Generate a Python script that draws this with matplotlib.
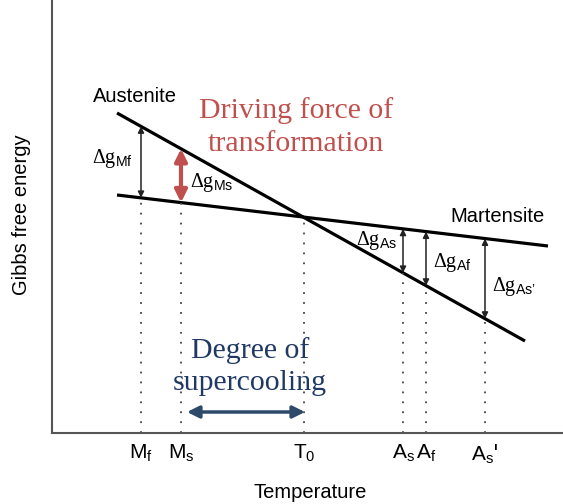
import numpy as np
import matplotlib
matplotlib.use("Agg")
import matplotlib.pyplot as plt

plt.rcParams['mathtext.fontset'] = 'custom'
plt.rcParams['mathtext.rm'] = 'Liberation Serif'
plt.rcParams['mathtext.it'] = 'Liberation Serif:italic'
plt.rcParams['mathtext.sf'] = 'Liberation Sans'

# ---- data (arbitrary units) ----
aus_T = [117, 525]
aus_G = [391, 163]
mar_T = [117, 548]
mar_G = [309, 258]
temp_names = ['Mf', 'Ms', 'T0', 'As', 'Af', "As'"]
temp_vals = [141, 181, 304, 403, 426, 485]
temp_labels = [r'$\mathsf{M_f}$', r'$\mathsf{M_s}$', r'$\mathsf{T_0}$',
               r'$\mathsf{A_s}$', r'$\mathsf{A_f}$', r"$\mathsf{A_s}$'"]
dg_labels = {'Mf': r'$\Delta\mathrm{g}_{\mathsf{Mf}}$',
             'Ms': r'$\Delta\mathrm{g}_{\mathsf{Ms}}$',
             'As': r'$\Delta\mathrm{g}_{\mathsf{As}}$',
             'Af': r'$\Delta\mathrm{g}_{\mathsf{Af}}$',
             "As'": '$\\Delta\\mathrm{g}_{\\mathsf{As\u2019}}$'}
supercool_span = [187, 305]


def g_aus(t):
    return aus_G[0] + (aus_G[1] - aus_G[0]) * (t - aus_T[0]) / (aus_T[1] - aus_T[0])


def g_mar(t):
    return mar_G[0] + (mar_G[1] - mar_G[0]) * (t - mar_T[0]) / (mar_T[1] - mar_T[0])


fig = plt.figure(figsize=(5.63, 5.04), dpi=100)
ax = fig.add_axes([52/563, 71/504, 1 - 52/563, 433/504])
ax.set_xlim(52, 563)
ax.set_ylim(71, 504)

for s in ['top', 'right']:
    ax.spines[s].set_visible(False)
for s in ['left', 'bottom']:
    ax.spines[s].set_color('#555555')
    ax.spines[s].set_linewidth(1.5)

ax.plot(aus_T, aus_G, color='black', lw=2.3, solid_capstyle='butt')
ax.plot(mar_T, mar_G, color='black', lw=2.3, solid_capstyle='butt')

# dotted guide lines
for name, t in zip(temp_names, temp_vals):
    top = min(g_aus(t), g_mar(t))
    ax.plot([t, t], [71, top], color='#444444', lw=1.3, linestyle=(0, (1, 4.5)))

# Delta g arrows
for name, t in zip(temp_names, temp_vals):
    if name == 'T0':
        continue
    a, m = g_aus(t), g_mar(t)
    if name == 'Ms':
        ax.annotate('', xy=(t, a), xytext=(t, m),
                    arrowprops=dict(arrowstyle='<|-|>', color='#C0504D', lw=3,
                                    mutation_scale=18, shrinkA=0, shrinkB=0))
    else:
        ax.annotate('', xy=(t, max(a, m)), xytext=(t, min(a, m)),
                    arrowprops=dict(arrowstyle='<|-|>', color='#222222', lw=1.1,
                                    mutation_scale=9, shrinkA=0, shrinkB=0))

fs = 14.5
ax.text(112, 345, dg_labels['Mf'], fontsize=fs, ha='center', va='center')
ax.text(212, 321, dg_labels['Ms'], fontsize=fs, ha='center', va='center')
ax.text(377, 264, dg_labels['As'], fontsize=fs, ha='center', va='center')
ax.text(452, 242, dg_labels['Af'], fontsize=fs, ha='center', va='center')
ax.text(514, 217, dg_labels["As'"], fontsize=fs, ha='center', va='center')

ax.text(135, 407, 'Austenite', fontsize=14.5, ha='center', va='center',
        family='Liberation Sans')
ax.text(498, 287, 'Martensite', fontsize=14.5, ha='center', va='center',
        family='Liberation Sans')

ax.text(296, 377, 'Driving force of\ntransformation', fontsize=21.5, ha='center',
        va='center', family='Liberation Serif', color='#C0504D', linespacing=1.32)
ax.text(250, 137, 'Degree of\nsupercooling', fontsize=21.5, ha='center',
        va='center', family='Liberation Serif', color='#1F3864', linespacing=1.3)

ax.annotate('', xy=(supercool_span[0], 92), xytext=(supercool_span[1], 92),
            arrowprops=dict(arrowstyle='<|-|>', color='#2E4A6B', lw=2.5,
                            mutation_scale=18, shrinkA=0, shrinkB=0))

ax.set_xticks(temp_vals)
ax.set_xticklabels(temp_labels, fontsize=15)
ax.tick_params(axis='x', length=0, pad=7)
ax.set_yticks([])

ax.set_xlabel('Temperature', fontsize=14.5, family='Liberation Sans')
ax.set_ylabel('Gibbs free energy', fontsize=14.5, family='Liberation Sans')
ax.xaxis.label.set_va('center')
ax.yaxis.label.set_va('center')
ax.xaxis.set_label_coords((310 - 52) / 511, -(492 - 433) / 433)
ax.yaxis.set_label_coords(-(52 - 22) / 511, (433 - 215) / 433)

fig.savefig('out.png', dpi=100)
